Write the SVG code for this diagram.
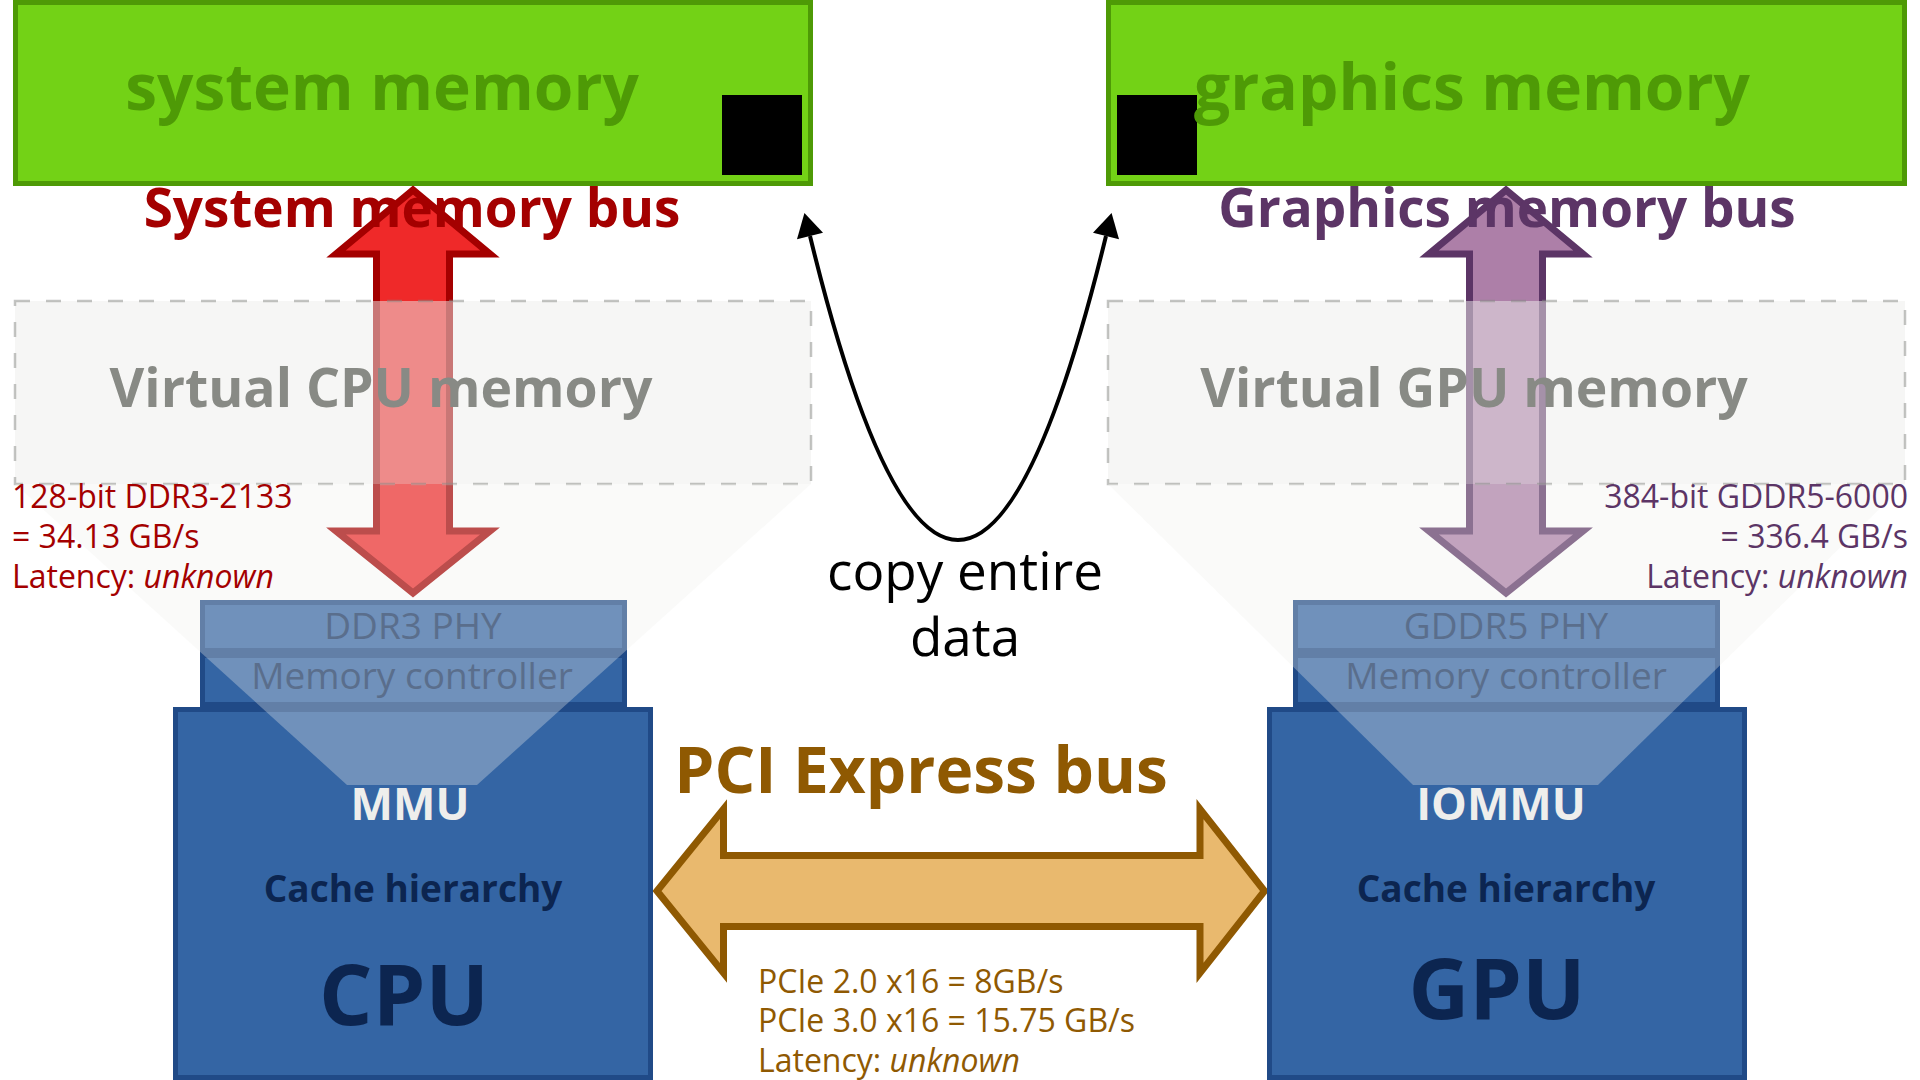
<svg xmlns="http://www.w3.org/2000/svg" width="1920" height="1080" viewBox="0 0 1920 1080">
<defs>
<style>
text{font-family:"Open Sans","Noto Sans","Liberation Sans",sans-serif}
.b{font-weight:bold}
.mid{text-anchor:middle}
.end{text-anchor:end}
.mem{fill:#73d216;stroke:#4e9a06;stroke-width:5}
.memt{fill:#4e9a06;font-size:64px}
.virt{fill:#eeeeec;fill-opacity:.5;stroke:#888a85;stroke-opacity:.5;stroke-width:2.5;stroke-dasharray:15,16}
.virtt{fill:#888a85;font-size:53.5px}
.funnel{fill:#eeeeec;fill-opacity:.32}
.chip{fill:#3465a4;stroke:#204a87;stroke-width:5}
.phyt{fill:#5a6e8c;font-size:37px}
.mmu{fill:#eeeeec;font-size:45px}
.dark{fill:#0c2550}
.it{font-style:italic}
</style>
<marker id="ah" markerUnits="userSpaceOnUse" markerWidth="30" markerHeight="30" viewBox="-2 -14 26 28" refX="0" refY="0" orient="auto-start-reverse">
<path d="M0,-12.5 L22,0 L0,12.5 Z" fill="#000"/>
</marker>
</defs>

<g id="system-memory">
<rect class="mem" x="15.5" y="2.5" width="795" height="181"/>
<rect x="722" y="95" width="80" height="80" fill="#000"/>
<text class="b mid memt" x="382" y="110">system memory</text>
</g>

<g id="graphics-memory">
<rect class="mem" x="1108.5" y="2.5" width="796" height="181"/>
<rect x="1117" y="95" width="80" height="80" fill="#000"/>
<text class="b mid memt" x="1472" y="110">graphics memory</text>
</g>

<g id="connectors">
<path id="sys-bus" d="M413,190 L490,254 L449.5,254 L449.5,531 L490,531 L413,593 L336,531 L376.5,531 L376.5,254 L336,254 Z" fill="#ef2929" stroke="#a40000" stroke-width="7"/>
<path id="gfx-bus" d="M1506,190 L1583,254 L1542.5,254 L1542.5,531 L1583,531 L1506,593 L1429,531 L1469.5,531 L1469.5,254 L1429,254 Z" fill="#ad7fa8" stroke="#5c3566" stroke-width="7"/>
<path id="pcie-bus" d="M657,891 L723.5,809 L723.5,855.5 L1200,855.5 L1200,809 L1264.5,891 L1200,973 L1200,926.5 L723.5,926.5 L723.5,973 Z" fill="#e9b96e" stroke="#8f5902" stroke-width="7"/>
<path id="copy" d="M810,236 Q958,844 1106,236" fill="none" stroke="#000" stroke-width="4" marker-start="url(#ah)" marker-end="url(#ah)"/>
</g>

<g id="bus-labels">
<text class="b mid" x="412" y="227" font-size="53" fill="#a40000">System memory bus</text>
<text class="b mid" x="1507" y="227" font-size="53" fill="#5c3566">Graphics memory bus</text>
</g>

<g id="virtual-cpu-memory">
<rect class="virt" x="15" y="301" width="796" height="183"/>
<text class="b mid virtt" x="381" y="407">Virtual CPU memory</text>
</g>

<g id="virtual-gpu-memory">
<rect class="virt" x="1108" y="301" width="797" height="183"/>
<text class="b mid virtt" x="1474" y="407">Virtual GPU memory</text>
</g>

<g id="cpu">
<rect class="chip" x="175.5" y="709.5" width="475" height="368"/>
<rect class="chip" x="202.5" y="655.5" width="422" height="49"/>
<rect class="chip" x="202.5" y="602.5" width="422" height="48"/>
<text class="b mid mmu" x="410" y="820">MMU</text>
<text class="b mid dark" x="413" y="902" font-size="37">Cache hierarchy</text>
<text class="b mid dark" x="404" y="1025" font-size="84">CPU</text>
</g>

<g id="gpu">
<rect class="chip" x="1269.5" y="709.5" width="475" height="368"/>
<rect class="chip" x="1295.5" y="655.5" width="422" height="49"/>
<rect class="chip" x="1295.5" y="602.5" width="422" height="48"/>
<text class="b mid mmu" x="1501" y="820">IOMMU</text>
<text class="b mid dark" x="1506" y="902" font-size="37">Cache hierarchy</text>
<text class="b mid dark" x="1497" y="1019" font-size="84">GPU</text>
</g>

<g id="funnels">
<polygon class="funnel" points="15,484 811,484 477,785 347,785"/>
<polygon class="funnel" points="1108,484 1905,484 1598,785 1413,785"/>
</g>

<g id="phy-labels">
<text class="mid phyt" x="413" y="639">DDR3 PHY</text>
<text class="mid phyt" x="412" y="689">Memory controller</text>
<text class="mid phyt" x="1506" y="639">GDDR5 PHY</text>
<text class="mid phyt" x="1506" y="689">Memory controller</text>
</g>

<g id="stats">
<text x="12" y="508" fill="#a40000" font-size="32">128-bit DDR3-2133</text>
<text x="12" y="548" fill="#a40000" font-size="32">= 34.13 GB/s</text>
<text x="12" y="588" fill="#a40000" font-size="32">Latency: <tspan class="it">unknown</tspan></text>
<text class="end" x="1908" y="508" fill="#5c3566" font-size="32">384-bit GDDR5-6000</text>
<text class="end" x="1908" y="548" fill="#5c3566" font-size="32">= 336.4 GB/s</text>
<text class="end" x="1908" y="588" fill="#5c3566" font-size="32">Latency: <tspan class="it">unknown</tspan></text>
</g>

<g id="pcie-labels">
<text class="b mid" x="921" y="793" font-size="64" fill="#8f5902">PCI Express bus</text>
<text x="758" y="993" font-size="32" fill="#8f5902">PCIe 2.0 x16 = 8GB/s</text>
<text x="758" y="1032" font-size="32" fill="#8f5902">PCIe 3.0 x16 = 15.75 GB/s</text>
<text x="758" y="1072" font-size="32" fill="#8f5902">Latency: <tspan class="it">unknown</tspan></text>
</g>

<g id="copy-label">
<text class="mid" x="965" y="590" font-size="53" fill="#000">copy entire</text>
<text class="mid" x="965" y="656" font-size="53" fill="#000">data</text>
</g>
</svg>
